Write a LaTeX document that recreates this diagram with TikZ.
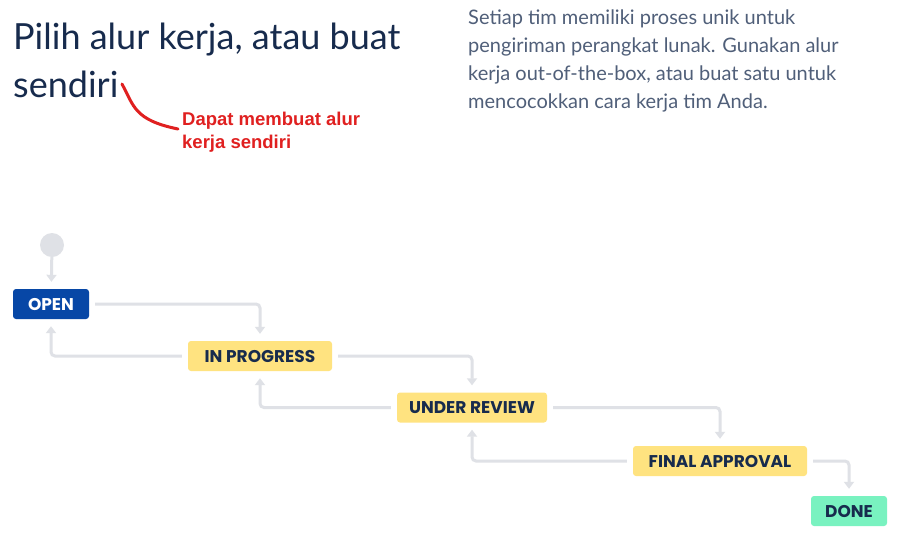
\documentclass[tikz,border=0pt]{standalone}
\usepackage{fontspec}
\setmainfont{Lato}
\newfontfamily\statusfont{Poppins}
\newfontfamily\notefont{Liberation Sans}
\usetikzlibrary{positioning,arrows.meta}

\definecolor{titleblue}{HTML}{172B4D}
\definecolor{bodygray}{HTML}{505F79}
\definecolor{linegray}{HTML}{DFE1E6}
\definecolor{openblue}{HTML}{0747A6}
\definecolor{stateyellow}{HTML}{FFE380}
\definecolor{donegreen}{HTML}{79F2C0}
\definecolor{notered}{HTML}{E02020}

\tikzset{
  status/.style={rectangle, rounded corners=3pt, minimum height=30pt, inner sep=0pt,
    font=\statusfont\bfseries\fontsize{17}{20}\selectfont, text=titleblue, fill=stateyellow},
  flow/.style={draw=linegray, line width=3pt, rounded corners=4pt,
    shorten <=6pt, shorten >=7pt, -{Triangle[length=7pt,width=10pt]}}
}

\begin{document}
\begin{tikzpicture}[x=1pt, y=-1pt]
  \useasboundingbox[fill=white] (0,0) rectangle (923,539);

  % heading and text
  \node[anchor=north west, inner sep=0pt, align=left, text=titleblue,
    font=\fontsize{36}{48}\selectfont] (title) at (13,23) {Pilih alur kerja, atau buat\\sendiri};
  \node[anchor=north west, inner sep=0pt, align=left, text=bodygray,
    font=\fontsize{20}{28}\selectfont] (intro) at (468,10)
    {Setiap tim memiliki proses unik untuk\\pengiriman perangkat lunak. Gunakan alur\\kerja out-of-the-box, atau buat satu untuk\\mencocokkan cara kerja tim Anda.};

  % red remark
  \coordinate (hook) at (122,84);
  \node[anchor=north west, inner sep=0pt, align=left, text=notered,
    font=\notefont\bfseries\fontsize{18.5}{22.5}\selectfont] (remark) at (182,112) {Dapat membuat alur\\kerja sendiri};
  \draw[notered, line width=3pt, line cap=round] (hook) .. controls (134,106) and (134,120) .. ([xshift=-4pt]remark.west |- 0,129);

  % workflow
  \node[circle, fill=linegray, minimum size=24pt, inner sep=0pt] (start) at (52,245) {};
  \node[status, fill=openblue, text=white, minimum width=76pt] (open) at (51,304) {OPEN};
  \node[status, minimum width=144pt] (inprog) at (260,356) {IN PROGRESS};
  \node[status, minimum width=150pt] (review) at (472,407.5) {UNDER REVIEW};
  \node[status, minimum width=174pt] (approval) at (720,461) {FINAL APPROVAL};
  \node[status, fill=donegreen, minimum width=76pt] (done) at (849,511) {DONE};

  \draw[flow, shorten <=0pt] (start) -- (open);
  \draw[flow] (open) -| (inprog);
  \draw[flow] (inprog) -| (open);
  \draw[flow] (inprog) -| (review);
  \draw[flow] (review) -| (inprog);
  \draw[flow] (review) -| (approval);
  \draw[flow] (approval) -| (review);
  \draw[flow] (approval) -| (done);
\end{tikzpicture}
\end{document}
